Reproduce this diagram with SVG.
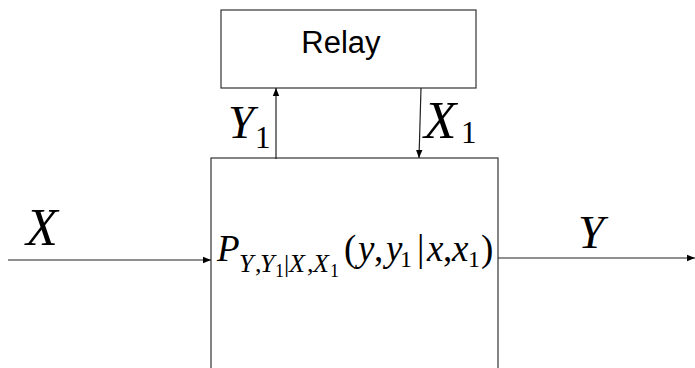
<svg xmlns="http://www.w3.org/2000/svg" width="695" height="368" viewBox="0 0 695 368">
<defs>
<marker id="ah" viewBox="0 0 10 10" refX="10" refY="5" markerWidth="8" markerHeight="8" markerUnits="userSpaceOnUse" orient="auto"><path d="M0,1 L10,5 L0,9 z" fill="#000"/></marker>
<style>
.box{fill:#fff;stroke:#333;stroke-width:1.2}
.ln{stroke:#222;stroke-width:1.2;fill:none}
.m{font-family:"Liberation Serif","DejaVu Serif",serif;font-style:italic;fill:#000}
.r{font-family:"Liberation Serif","DejaVu Serif",serif;fill:#000}
</style>
</defs>
<rect width="695" height="368" fill="#fff"/>
<g id="relay">
<rect class="box" x="221" y="10" width="255" height="78"/>
<text x="341" y="53" font-family="Liberation Sans, Arial, sans-serif" font-size="31" text-anchor="middle">Relay</text>
</g>
<g id="channel">
<rect class="box" x="211" y="158" width="287" height="230"/>
<text font-size="37">
<tspan class="m" x="217" y="261">P</tspan>
<tspan class="m" x="239" y="272" font-size="26">Y</tspan><tspan class="r" x="255" y="272" font-size="26">,</tspan><tspan class="m" x="260" y="272" font-size="26">Y</tspan><tspan class="r" x="275" y="277" font-size="18">1</tspan><tspan class="r" x="284" y="272" font-size="26">|</tspan><tspan class="m" x="289" y="272" font-size="26">X</tspan><tspan class="r" x="307" y="272" font-size="26">,</tspan><tspan class="m" x="313" y="272" font-size="26">X</tspan><tspan class="r" x="330" y="277" font-size="18">1</tspan>
<tspan class="r" x="344" y="261">(</tspan><tspan class="m" x="358" y="261">y</tspan><tspan class="r" x="374" y="261">,</tspan><tspan class="m" x="386" y="261">y</tspan><tspan class="r" x="400" y="267" font-size="24">1</tspan><tspan class="r" x="417" y="261">|</tspan><tspan class="m" x="427" y="261">x</tspan><tspan class="r" x="443" y="261">,</tspan><tspan class="m" x="452" y="261">x</tspan><tspan class="r" x="468" y="267" font-size="24">1</tspan><tspan class="r" x="481" y="261">)</tspan>
</text>
</g>
<g id="connectors">
<line class="ln" x1="8" y1="260" x2="211" y2="260" marker-end="url(#ah)"/>
<line class="ln" x1="498" y1="258" x2="695" y2="258" marker-end="url(#ah)"/>
<line class="ln" x1="276" y1="159" x2="276" y2="88" marker-end="url(#ah)"/>
<line class="ln" x1="421" y1="88" x2="419" y2="158" marker-end="url(#ah)"/>
</g>
<g id="labels">
<text class="m" x="26" y="245" font-size="52">X</text>
<text class="m" x="578" y="248" font-size="47">Y</text>
<text class="m" x="228" y="138" font-size="47">Y</text><text class="r" x="255" y="148" font-size="31">1</text>
<text class="m" x="424" y="138" font-size="53">X</text><text class="r" x="461" y="143" font-size="31">1</text>
</g>
</svg>
